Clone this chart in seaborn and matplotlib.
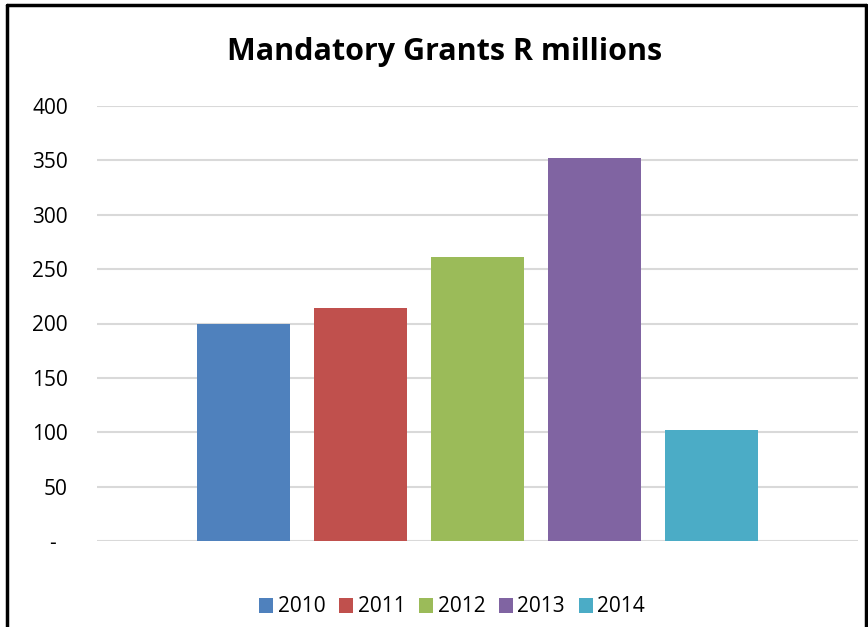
import matplotlib
matplotlib.use("Agg")
import matplotlib.pyplot as plt
import seaborn as sns
import pandas as pd
from matplotlib.patches import Rectangle
from matplotlib.lines import Line2D

years = ["2010", "2011", "2012", "2013", "2014"]
values = [200, 214, 261, 352, 102]
colors = ["#4F81BD", "#C0504D", "#9BBB59", "#8064A2", "#4BACC6"]
yticks = [0, 50, 100, 150, 200, 250, 300, 350, 400]
ytick_labels = ["-", "50", "100", "150", "200", "250", "300", "350", "400"]
title = "Mandatory Grants R millions"

sns.set_theme(style="white")
plt.rcParams["font.family"] = ["Open Sans", "DejaVu Sans"]
plt.rcParams["text.color"] = "black"

df = pd.DataFrame({"year": years, "value": values})

fig = plt.figure(figsize=(8.68, 6.27), dpi=100)
ax = fig.add_axes([97/868, 1-541/627, (858-97)/868, (541-106)/627])

sns.barplot(data=df, x="year", y="value", hue="year", palette=colors,
            width=0.795, saturation=1, ax=ax, legend=False, linewidth=0, zorder=3)

ax.set_xlim(-1.252, 5.252)
ax.set_ylim(0, 400)
ax.set_yticks(yticks)
ax.set_yticklabels([l if l != "-" else "-  " for l in ytick_labels], fontsize=15, color="black")
ax.set_xticks([])
ax.set_xlabel("")
ax.set_ylabel("")
ax.tick_params(axis="y", length=0, pad=21)
for s in ax.spines.values():
    s.set_visible(False)
ax.yaxis.grid(True, color="#D9D9D9", linewidth=1.5, zorder=0)
ax.set_axisbelow(True)

fig.text(445/868, 1-52/627, title, ha="center", va="center", fontsize=22,
         fontweight="bold", color="black")

handles = [Rectangle((0, 0), 1, 1, facecolor=c, edgecolor="none") for c in colors]
fig.legend(handles, years, loc="center", bbox_to_anchor=(452/868, 1-607/627), ncol=5,
           frameon=False, fontsize=15, handlelength=0.7, handleheight=0.7,
           handletextpad=0.2, columnspacing=0.65, labelcolor="black")

# outer border (left, top, right)
fig.add_artist(Line2D([6.5/868, 6.5/868], [0, 1-4.5/627], transform=fig.transFigure, color="black", linewidth=2.5))
fig.add_artist(Line2D([6.5/868, 865.5/868], [1-4.5/627, 1-4.5/627], transform=fig.transFigure, color="black", linewidth=2.5))
fig.add_artist(Line2D([865.5/868, 865.5/868], [0, 1-4.5/627], transform=fig.transFigure, color="black", linewidth=2.5))

fig.savefig("out.png", dpi=100)
